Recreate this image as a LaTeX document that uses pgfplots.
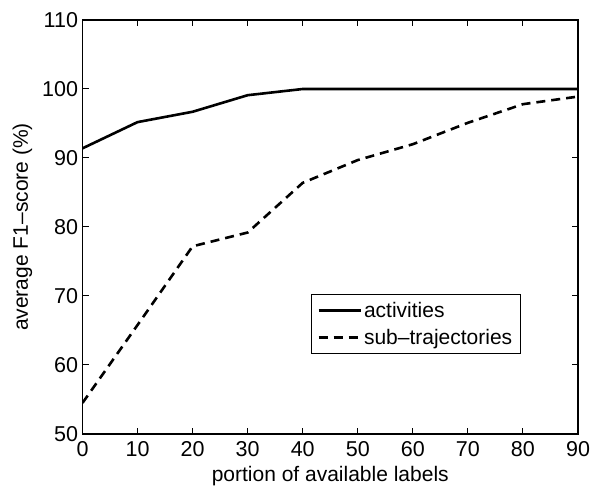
\documentclass[border=0pt]{standalone}
\usepackage{fontspec}
\setmainfont{Liberation Sans}
\usepackage{pgfplots}
\pgfplotsset{compat=1.18}

\begin{document}
\begin{tikzpicture}[x=1pt,y=1pt]
\begin{axis}[
    name=main,
    scale only axis,
    width=495.5pt, height=414pt,
    xmin=0, xmax=90, ymin=50, ymax=110,
    xtick={0,10,...,90}, ytick={50,60,...,110},
    tick align=inside,
    major tick length=6pt,
    axis line style={line width=1.3pt},
    every tick/.style={line width=1pt, black},
    font=\fontsize{21}{24}\selectfont,
    tick label style={font=\fontsize{21.5}{24}\selectfont},
    /pgf/number format/assume math mode=true,
    xlabel={portion of available labels},
    ylabel={average F1\textendash score (\%)},
    xlabel style={yshift=-3pt},
    ylabel style={yshift=3pt},
    xticklabel style={yshift=-4pt},
    yticklabel style={xshift=-1pt},
    legend style={at={(0.461,0.193)}, anchor=south west, draw=black, line width=1pt,
        inner xsep=6pt, inner ysep=6pt, row sep=6pt, font=\fontsize{21}{24}\selectfont},
    legend cell align=left,
    legend image code/.code={\draw[#1] (0pt,0pt) -- (42pt,0pt);},
]
\addplot[black, line width=2.6pt] coordinates {
    (0,91.4) (10,95.2) (20,96.7) (30,99.1) (40,100) (50,100) (60,100) (70,100) (80,100) (90,100)
};
\addlegendentry{activities}
\addplot[black, line width=2.6pt, dash pattern=on 9pt off 6pt] coordinates {
    (0,54.5) (10,65.8) (20,77.2) (30,79.2) (40,86.4) (50,89.7) (60,92.0) (70,95.1) (80,97.8) (90,98.9)
};
\addlegendentry{sub\textendash trajectories}
\end{axis}
\path (main.south west) ++(-82.5pt,-54pt) coordinate (bbl);
\path (main.north east) ++(17pt,20pt) coordinate (bbr);
\useasboundingbox (bbl) rectangle (bbr);
\end{tikzpicture}
\end{document}
